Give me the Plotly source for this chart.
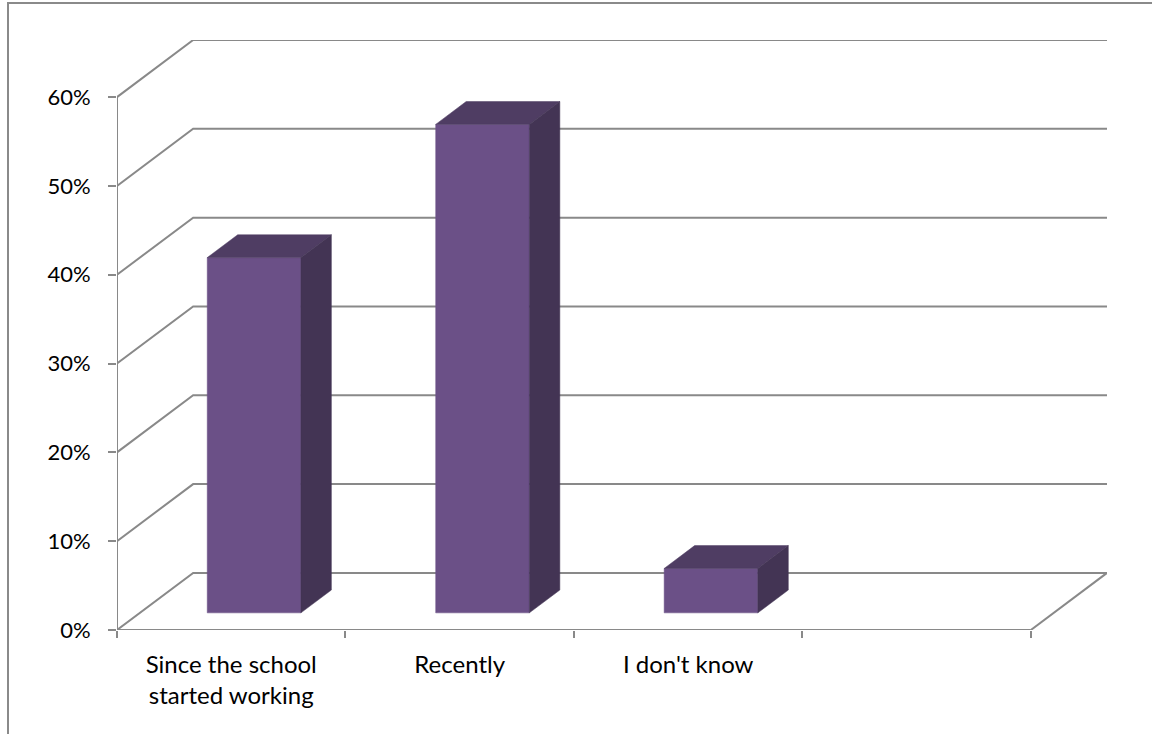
import plotly.graph_objects as go

# Survey answers (share of respondents)
categories = ["Since the school<br>started working", "Recently", "I don't know", ""]
values = [0.40, 0.55, 0.05, None]
y_ticks = [0.0, 0.1, 0.2, 0.3, 0.4, 0.5, 0.6]

# Oblique projection of the 3-D chart box: depth z in [0, 1] shifts points
# right by DX category units and up by DY value units.
DX = 0.3333
DY = 0.0643
BAR_HALF_W = 0.205
Z_FRONT, Z_BACK = 0.3, 0.7

GRID = "#898989"
FRONT = "#6B5087"
TOP = "#4F3D63"
SIDE = "#433454"
FONT = "Lato"

n_cat = len(categories)


def proj(x, y, z):
    return x + z * DX, y + z * DY


fig = go.Figure()

# Back wall gridlines with their diagonal floor/side-wall lead-ins
gx, gy = [], []
for v in y_ticks:
    for (x, y, z) in [(0, v, 0), (0, v, 1), (n_cat, v, 1)]:
        px, py = proj(x, y, z)
        gx.append(px)
        gy.append(py)
    gx.append(None)
    gy.append(None)
# right edge of the floor
for (x, y, z) in [(n_cat, 0, 0), (n_cat, 0, 1)]:
    px, py = proj(x, y, z)
    gx.append(px)
    gy.append(py)
gx.append(None)
gy.append(None)
# front value axis and category axis
gx += [0, 0, None, 0, n_cat]
gy += [0, y_ticks[-1], None, 0, 0]
fig.add_trace(go.Scatter(x=gx, y=gy, mode="lines",
                         line=dict(color=GRID, width=2),
                         hoverinfo="skip", showlegend=False))


def face(points, color):
    xs, ys = [], []
    for p in points:
        px, py = proj(*p)
        xs.append(px)
        ys.append(py)
    xs.append(xs[0])
    ys.append(ys[0])
    fig.add_trace(go.Scatter(x=xs, y=ys, mode="lines", fill="toself",
                             fillcolor=color, line=dict(color=color, width=0.5),
                             hoverinfo="skip", showlegend=False))


# 3-D bars: front face, top, right side
for i, v in enumerate(values):
    if v is None:
        continue
    c = i + 0.5
    x0, x1 = c - BAR_HALF_W, c + BAR_HALF_W
    face([(x0, 0, Z_FRONT), (x1, 0, Z_FRONT), (x1, v, Z_FRONT), (x0, v, Z_FRONT)], FRONT)
    face([(x0, v, Z_FRONT), (x1, v, Z_FRONT), (x1, v, Z_BACK), (x0, v, Z_BACK)], TOP)
    face([(x1, 0, Z_FRONT), (x1, 0, Z_BACK), (x1, v, Z_BACK), (x1, v, Z_FRONT)], SIDE)

L, R, T, B = 117, 45, 40, 104
W, H = 1152, 734
pw, ph = W - L - R, H - T - B

fig.update_layout(
    width=W, height=H,
    margin=dict(l=L, r=R, t=T, b=B),
    paper_bgcolor="white", plot_bgcolor="white",
    font=dict(family=FONT, size=22, color="black"),
    xaxis=dict(range=[0, n_cat + DX], showgrid=False, zeroline=False, showline=False,
               tickmode="array", tickvals=[i + 0.5 for i in range(n_cat)],
               ticktext=categories, ticks="", tickfont=dict(size=24),
               ticklabelstandoff=18,
               minor=dict(tickmode="linear", tick0=0, dtick=1, ticks="outside",
                          ticklen=7, tickwidth=2, tickcolor=GRID, showgrid=False),
               fixedrange=True),
    yaxis=dict(range=[0, y_ticks[-1] + DY], showgrid=False, zeroline=False, showline=False,
               tickmode="array", tickvals=y_ticks, tickformat=".0%",
               ticks="outside", ticklen=8, tickwidth=2, tickcolor=GRID,
               tickfont=dict(size=22), ticklabelstandoff=13, fixedrange=True),
    shapes=[dict(type="rect", xref="paper", yref="paper",
                 x0=(8 - L) / pw, x1=(W + 10 - L) / pw,
                 y0=-(B + 10) / ph, y1=(H - B - 3) / ph,
                 line=dict(color="#8A8A8A", width=2), fillcolor="rgba(0,0,0,0)",
                 layer="below")],
)

fig.write_html("out.html")
